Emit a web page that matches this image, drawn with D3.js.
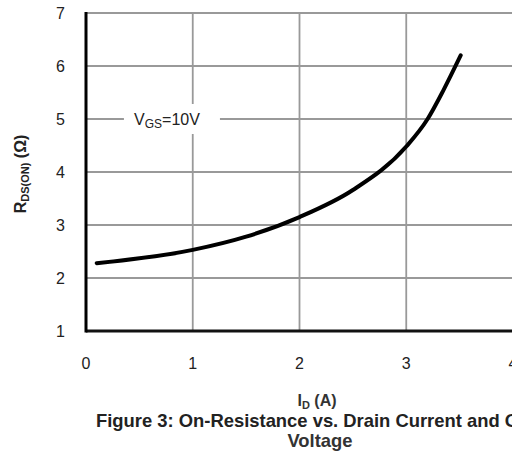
<!DOCTYPE html>
<html>
<head>
<meta charset="utf-8">
<script src="https://cdn.jsdelivr.net/npm/d3@7"></script>
<style>
  body { margin: 0; background: #fff; }
  svg { display: block; font-family: "Liberation Sans", Arial, sans-serif; }
</style>
</head>
<body>
<svg id="chart" width="512" height="454"></svg>
<script>
// drain current (A) vs on-resistance (ohm)
const currentA = [0.1, 1.0, 1.5, 2.0, 2.5, 3.0, 3.2, 3.35, 3.51];
const rdsOn = [2.28, 2.53, 2.78, 3.15, 3.66, 4.48, 5.0, 5.55, 6.2];
const xTicks = [0, 1, 2, 3, 4];
const yTicks = [1, 2, 3, 4, 5, 6, 7];

const svg = d3.select("#chart");
const x = d3.scaleLinear().domain([0, 4]).range([86, 513]);
const y = d3.scaleLinear().domain([1, 7]).range([331, 13]);

// grid
svg.append("g")
  .selectAll("line")
  .data(yTicks.slice(1))
  .join("line")
  .attr("x1", x(0)).attr("x2", 512)
  .attr("y1", d => y(d)).attr("y2", d => y(d))
  .attr("stroke", "#999").attr("stroke-width", 1.8);

svg.append("g")
  .selectAll("line")
  .data(xTicks.slice(1))
  .join("line")
  .attr("x1", d => x(d)).attr("x2", d => x(d))
  .attr("y1", y(7)).attr("y2", y(1))
  .attr("stroke", "#999").attr("stroke-width", 1.8);

// axis lines
svg.append("line")
  .attr("x1", x(0)).attr("x2", 512)
  .attr("y1", y(1)).attr("y2", y(1))
  .attr("stroke", "#111").attr("stroke-width", 3);
svg.append("line")
  .attr("x1", x(0)).attr("x2", x(0))
  .attr("y1", y(7) - 1).attr("y2", y(1) + 1.5)
  .attr("stroke", "#000").attr("stroke-width", 3);

// tick labels
svg.append("g")
  .selectAll("text")
  .data(yTicks)
  .join("text")
  .attr("x", 65).attr("y", d => y(d))
  .attr("dy", "0.36em")
  .attr("text-anchor", "end")
  .attr("font-size", 16).attr("fill", "#222")
  .text(d => d);

svg.append("g")
  .selectAll("text")
  .data(xTicks)
  .join("text")
  .attr("x", d => x(d)).attr("y", 369)
  .attr("text-anchor", "middle")
  .attr("font-size", 16).attr("fill", "#222")
  .text(d => d);

// curve
const line = d3.line()
  .x((d, i) => x(currentA[i]))
  .y(d => y(d))
  .curve(d3.curveMonotoneX);

svg.append("path")
  .datum(rdsOn)
  .attr("d", line)
  .attr("fill", "none")
  .attr("stroke", "#000")
  .attr("stroke-width", 4)
  .attr("stroke-linecap", "round");

// V_GS label with white box over the grid
const lab = svg.append("g").attr("transform", `translate(${x(0.805)},${y(5)})`);
lab.append("rect")
  .attr("x", -48).attr("y", -15).attr("width", 96).attr("height", 30)
  .attr("fill", "#fff");
const vt = lab.append("text")
  .attr("x", -5)
  .attr("text-anchor", "middle").attr("dy", "0.36em")
  .attr("font-size", 16).attr("fill", "#222");
vt.append("tspan").text("V");
vt.append("tspan").attr("font-size", 12).attr("dy", 3).text("GS");
vt.append("tspan").attr("dy", -3).text("=10V");

// y axis title
const yt = svg.append("text")
  .attr("transform", "translate(26,174) rotate(-90)")
  .attr("text-anchor", "middle")
  .attr("font-size", 16).attr("font-weight", "bold").attr("fill", "#222");
yt.append("tspan").text("R");
yt.append("tspan").attr("font-size", 11).attr("dy", 3).text("DS(ON)");
yt.append("tspan").attr("dy", -3).text(" (Ω)");

// x axis title
const xt = svg.append("text")
  .attr("x", 317).attr("y", 406)
  .attr("text-anchor", "middle")
  .attr("font-size", 16).attr("font-weight", "bold").attr("fill", "#333");
xt.append("tspan").text("I");
xt.append("tspan").attr("font-size", 11).attr("dy", 3).text("D");
xt.append("tspan").attr("dy", -3).text(" (A)");

// caption (runs past the right edge, as in the source figure)
svg.append("text")
  .attr("x", 96).attr("y", 427)
  .attr("font-size", 18.4).attr("font-weight", "bold").attr("fill", "#222")
  .text("Figure 3: On-Resistance vs. Drain Current and Gate");
svg.append("text")
  .attr("x", 320).attr("y", 447)
  .attr("text-anchor", "middle")
  .attr("font-size", 18.4).attr("font-weight", "bold").attr("fill", "#333")
  .text("Voltage");
</script>
</body>
</html>
